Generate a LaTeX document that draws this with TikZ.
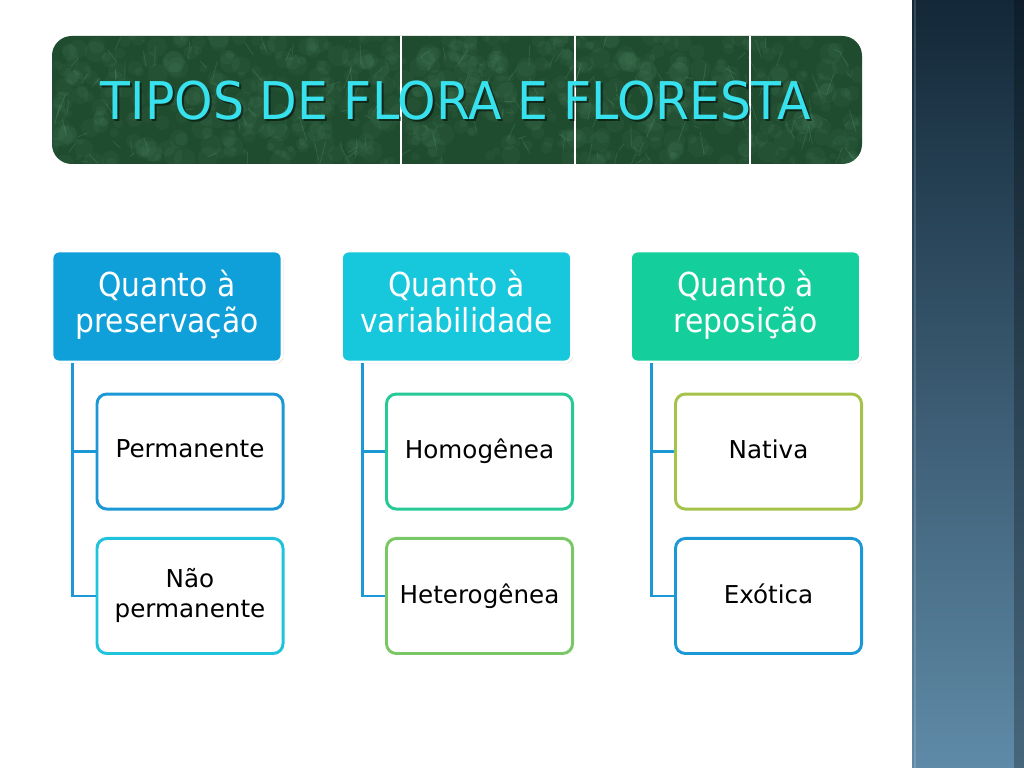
\documentclass[tikz,border=0pt]{standalone}
\usepackage{fontspec}
\setmainfont{DejaVu Sans}
\newfontfamily\headfont[FakeStretch=0.9]{DejaVu Sans}
\newfontfamily\titlefont[FakeStretch=0.94]{DejaVu Sans}
\usetikzlibrary{positioning,shadows}

\definecolor{bannerGreen}{HTML}{1F4B2F}
\definecolor{bannerLight}{HTML}{7CBF93}
\definecolor{titleCyan}{HTML}{38E1EE}
\definecolor{stripTop}{HTML}{132838}
\definecolor{stripBot}{HTML}{5F8AA7}
\definecolor{blueA}{HTML}{0F9FD9}
\definecolor{cyanA}{HTML}{17C7DC}
\definecolor{tealA}{HTML}{14CF9C}
\definecolor{blueB}{HTML}{1B98D5}
\definecolor{cyanB}{HTML}{20C3DC}
\definecolor{tealB}{HTML}{27C996}
\definecolor{greenB}{HTML}{79C865}
\definecolor{oliveB}{HTML}{A5C34B}

\newcommand{\leafstrut}{\rule[-4pt]{0pt}{16pt}}

\begin{document}
\begin{tikzpicture}[x=0.025cm, y=-0.025cm, on grid,
    head/.style={draw=white, line width=2pt, rounded corners=5pt,
      minimum width=5.75cm, minimum height=2.775cm, align=center,
      text=white, font=\headfont\fontsize{23.5}{25}\selectfont,
      execute at end node=\strut,
      drop shadow={opacity=0.35, shadow xshift=1pt, shadow yshift=-1pt}},
    leaf/.style={draw=#1, fill=white, line width=2.1pt, rounded corners=7pt,
      minimum width=4.65cm, minimum height=2.875cm, align=center,
      font=\fontsize{17.5}{21}\selectfont, execute at end node=\leafstrut},
    link/.style={draw=blueB, line width=2.1pt}]
  \useasboundingbox (0,0) rectangle (1024,768);
  % side strip
  \shade[top color=stripTop, bottom color=stripBot] (912,0) rectangle (1024,768);
  \fill[black, opacity=0.25] (1014,0) rectangle (1024,768);
  \draw[white, opacity=0.15, line width=1pt] (915,0) -- (915,768);
  % title banner with a rough texture
  \fill[bannerGreen, rounded corners=14pt] (52,36) rectangle (862,164);
  \begin{scope}
    \clip[rounded corners=14pt] (52,36) rectangle (862,164);
    \pgfmathsetseed{11}
    \foreach \i in {1,...,600} {
      \pgfmathsetmacro\xa{52+810*rnd}
      \pgfmathsetmacro\ya{36+128*rnd}
      \pgfmathsetmacro\rr{3+8*rnd}
      \fill[bannerLight, opacity=0.06] (\xa,\ya) circle[radius=\rr*0.025cm];
    }
    \foreach \i in {1,...,200} {
      \pgfmathsetmacro\xa{52+810*rnd}
      \pgfmathsetmacro\ya{36+128*rnd}
      \pgfmathsetmacro\dx{10*rand}
      \pgfmathsetmacro\dy{24*rand}
      \draw[bannerLight, opacity=0.18, line width=0.6pt] (\xa,\ya) -- ++(\dx,\dy);
    }
  \end{scope}
  \foreach \xv in {401,575,750}
    \draw[white, line width=0.8pt] (\xv,36) -- (\xv,164);
  \node[text=black, opacity=0.5, font=\titlefont\fontsize{37}{40}\selectfont] (titleShadow) at (458,103) {TIPOS DE FLORA E FLORESTA};
  \node[text=titleCyan, font=\titlefont\fontsize{37}{40}\selectfont] (title) at (456,101) {TIPOS DE FLORA E FLORESTA};
  % headers
  \node[head, fill=blueA] (pres) at (167,306.5) {Quanto à\\preservação};
  \node[head, fill=cyanA] (vari) at (456.5,306.5) {Quanto à\\variabilidade};
  \node[head, fill=tealA] (repo) at (745.5,306.5) {Quanto à\\reposição};
  % leaves
  \node[leaf=blueB, below right=3.625cm and 0.575cm of pres] (perm) {Permanente};
  \node[leaf=cyanB, below=3.61cm of perm] (nperm) {Não\\permanente};
  \node[leaf=tealB, below right=3.625cm and 0.575cm of vari] (homo) {Homogênea};
  \node[leaf=greenB, below=3.61cm of homo] (hete) {Heterogênea};
  \node[leaf=oliveB, below right=3.625cm and 0.575cm of repo] (nati) {Nativa};
  \node[leaf=blueB, below=3.61cm of nati] (exot) {Exótica};
  % connectors
  \foreach \h/\a/\b in {pres/perm/nperm, vari/homo/hete, repo/nati/exot} {
    \draw[link] ([xshift=0.55cm]\h.south west) |- (\a.west);
    \draw[link] ([xshift=0.55cm]\h.south west) |- (\b.west);
  }
\end{tikzpicture}
\end{document}
